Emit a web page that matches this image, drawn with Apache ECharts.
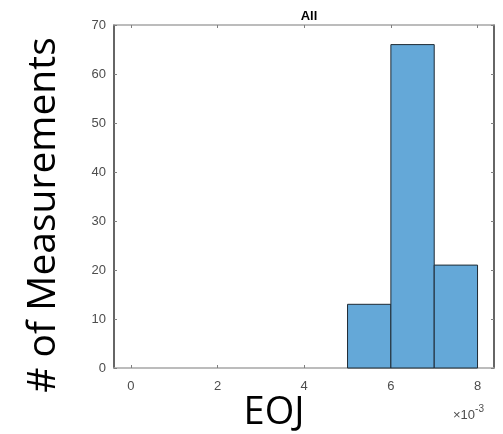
<!DOCTYPE html>
<html>
<head>
<meta charset="utf-8">
<script src="https://cdn.jsdelivr.net/npm/echarts@6/dist/echarts.min.js"></script>
<style>
  html, body { margin: 0; padding: 0; background: #fff; }
  #main { width: 503px; height: 434px; }
</style>
</head>
<body>
<div id="main"></div>
<script>
// histogram bins (x in units of 1e-3) and counts
var binEdges = [5, 6, 7, 8];
var binCounts = [13, 66, 21];
var xTicks = [0, 2, 4, 6, 8];
var yTicks = [0, 10, 20, 30, 40, 50, 60, 70];

var bins = [];
for (var i = 0; i < binCounts.length; i++) {
  bins.push([binEdges[i], binEdges[i + 1], binCounts[i]]);
}

var myChart = echarts.init(document.getElementById('main'));

var tickFont = { fontFamily: 'Liberation Sans, Arial', fontSize: 13, color: '#4d4d4d' };

var option = {
  animation: false,
  grid: { left: 114, right: 9, top: 25, bottom: 66 },
  title: {
    text: 'All',
    left: 304, top: 5,
    textAlign: 'center',
    textStyle: { fontFamily: 'Liberation Sans, Arial', fontSize: 13, fontWeight: 'bold', color: '#000' }
  },
  xAxis: [{
    type: 'value', min: -0.39, max: 8.38,
    axisLine: { show: true, onZero: false, lineStyle: { color: '#a6a6a6', width: 1.5 } },
    axisTick: { show: true, inside: true, length: 3, lineStyle: { color: '#808080' }, customValues: xTicks },
    axisLabel: Object.assign({ margin: 12, customValues: xTicks }, tickFont),
    splitLine: { show: false }
  }, {
    type: 'value', position: 'top', min: -0.39, max: 8.38,
    axisLine: { show: true, onZero: false, lineStyle: { color: '#a6a6a6', width: 1.5 } },
    axisTick: { show: true, inside: true, length: 3, lineStyle: { color: '#808080' }, customValues: xTicks },
    axisLabel: { show: false },
    splitLine: { show: false }
  }],
  yAxis: [{
    type: 'value', min: 0, max: 70, interval: 10,
    axisLine: { show: true, onZero: false, lineStyle: { color: '#333', width: 1.5 } },
    axisTick: { show: true, inside: true, length: 3, lineStyle: { color: '#808080' } },
    axisLabel: Object.assign({ margin: 8 }, tickFont),
    splitLine: { show: false }
  }, {
    type: 'value', position: 'right', min: 0, max: 70, interval: 10,
    axisLine: { show: true, onZero: false, lineStyle: { color: '#333', width: 1.5 } },
    axisTick: { show: true, inside: true, length: 3, lineStyle: { color: '#808080' } },
    axisLabel: { show: false },
    splitLine: { show: false }
  }],
  series: [{
    type: 'custom',
    data: bins,
    renderItem: function (params, api) {
      var p0 = api.coord([api.value(0), 0]);
      var p1 = api.coord([api.value(1), api.value(2)]);
      return {
        type: 'rect',
        shape: { x: p0[0], y: p1[1], width: p1[0] - p0[0], height: p0[1] - p1[1] },
        style: { fill: '#64a8d8', stroke: '#1f2a33', lineWidth: 1 }
      };
    }
  }],
  graphic: [{
    type: 'text',
    x: 44, y: 215, rotation: Math.PI / 2,
    style: {
      text: '# of Measurements',
      fontFamily: 'Open Sans, Liberation Sans',
      fontSize: 39, fill: '#000',
      align: 'center', verticalAlign: 'middle'
    }
  }, {
    type: 'text',
    x: 274, y: 413,
    style: {
      text: 'EOJ',
      fontFamily: 'Open Sans, Liberation Sans',
      fontSize: 38, fill: '#000',
      align: 'center', verticalAlign: 'middle'
    }
  }, {
    type: 'text',
    x: 453, y: 402,
    style: {
      text: '{a|×10}{b|-3}',
      rich: {
        a: { fontFamily: 'Liberation Sans, Arial', fontSize: 13, fill: '#4d4d4d', padding: [7, 0, 0, 0] },
        b: { fontFamily: 'Liberation Sans, Arial', fontSize: 10, fill: '#4d4d4d', padding: [0, 0, 5, 0] }
      }
    }
  }]
};

myChart.setOption(option);
</script>
</body>
</html>
